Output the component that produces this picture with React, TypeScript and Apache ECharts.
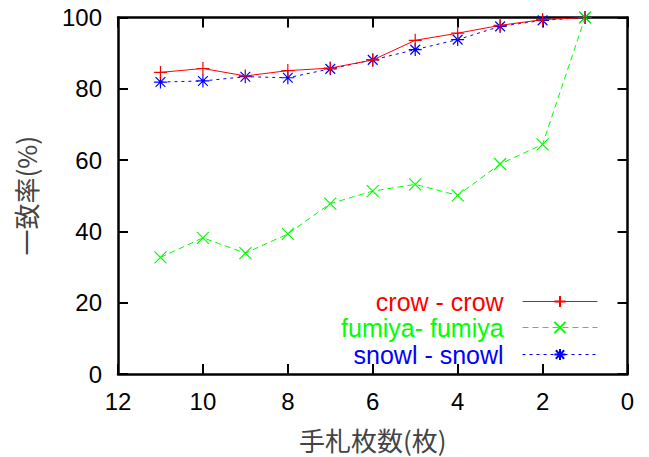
import React, { useEffect, useRef } from "react";
import * as echarts from "echarts";

const xValues = [11, 10, 9, 8, 7, 6, 5, 4, 3, 2, 1];
const crow = [84.6, 85.7, 83.6, 85.1, 85.8, 88.1, 93.6, 95.6, 97.8, 99.4, 100];
const fumiya = [32.7, 38.2, 33.9, 39.3, 47.8, 51.3, 53.2, 50.1, 58.9, 64.4, 100];
const snowl = [81.9, 82.2, 83.4, 83.1, 85.6, 88.1, 91.0, 93.8, 97.5, 99.2, 100];
const seriesNames = ["crow - crow", "fumiya- fumiya", "snowl - snowl"];
const seriesColors = ["#ff0000", "#00ff00", "#0000ff"];

const PLUS = "path://M0,-1L0,1M-1,0L1,0";
const CROSS = "path://M-1,-1L1,1M-1,1L1,-1";
const STAR = "path://M0,-1L0,1M-1,0L1,0M-0.75,-0.75L0.75,0.75M-0.75,0.75L0.75,-0.75";

const FONT = "'Liberation Sans', Arial, sans-serif";
const CJK = "'Noto Sans CJK JP', sans-serif";

export default function App() {
  const ref = useRef<HTMLDivElement>(null);
  useEffect(() => {
    if (!ref.current) return;
    const chart = echarts.init(ref.current, null, { renderer: "svg" });
    const pair = (arr: number[]) => xValues.map((x, i) => [x, arr[i]]);
    const dataSets = [crow, fumiya, snowl];
    const symbols = [PLUS, CROSS, STAR];
    const dashes: any[] = ["solid", [6, 4], [3, 4]];
    const symSizes = [13, 12, 13];
    const legendTops = [289, 315, 342];
    const axisCommon = {
      axisLine: { show: true, onZero: false, lineStyle: { color: "#000", width: 2.5 } },
      axisTick: { show: true, inside: true, length: 10, lineStyle: { color: "#000", width: 2 } },
      splitLine: { show: false },
    };
    chart.setOption({
      animation: false,
      backgroundColor: "#fff",
      grid: { left: 118, right: 21.5, top: 17.5, bottom: 81.5 },
      xAxis: [
        {
          type: "value",
          min: 0,
          max: 12,
          interval: 2,
          inverse: true,
          position: "bottom",
          ...axisCommon,
          axisLabel: { color: "#000", fontSize: 24, fontFamily: FONT, margin: 15 },
          name: "手札枚数(枚)",
          nameLocation: "middle",
          nameGap: 52,
          nameTextStyle: { color: "#444", fontSize: 26, fontFamily: CJK },
        },
        {
          type: "value",
          min: 0,
          max: 12,
          interval: 2,
          inverse: true,
          position: "top",
          ...axisCommon,
          axisLabel: { show: false },
        },
      ],
      yAxis: [
        {
          type: "value",
          min: 0,
          max: 100,
          interval: 20,
          position: "left",
          ...axisCommon,
          axisLabel: { color: "#000", fontSize: 24, fontFamily: FONT, margin: 16 },
          name: "一致率(%)",
          nameLocation: "middle",
          nameGap: 80,
          nameTextStyle: { color: "#444", fontSize: 26, fontFamily: CJK },
        },
        {
          type: "value",
          min: 0,
          max: 100,
          interval: 20,
          position: "right",
          ...axisCommon,
          axisLabel: { show: false },
        },
      ],
      legend: seriesNames.map((n, i) => ({
        data: [n],
        orient: "vertical",
        align: "right",
        right: 51,
        top: legendTops[i],
        padding: 0,
        itemWidth: 75,
        itemHeight: 14,
        formatter: (name: string) => name + "  ",
        lineStyle: { width: 1 },
        textStyle: { color: seriesColors[i], fontSize: 25, lineHeight: 22, fontFamily: FONT },
      })),
      series: seriesNames.map((n, i) => ({
        name: n,
        type: "line",
        data: pair(dataSets[i]),
        symbol: symbols[i],
        symbolSize: symSizes[i],
        showSymbol: true,
        lineStyle: { color: seriesColors[i], width: 1, type: dashes[i] },
        itemStyle: { color: seriesColors[i], borderColor: seriesColors[i], borderWidth: 1.2 },
        z: 3 - i,
      })),
    });
    return () => chart.dispose();
  }, []);
  return <div ref={ref} style={{ position: "fixed", left: 0, top: 0, width: 649, height: 457 }} />;
}
